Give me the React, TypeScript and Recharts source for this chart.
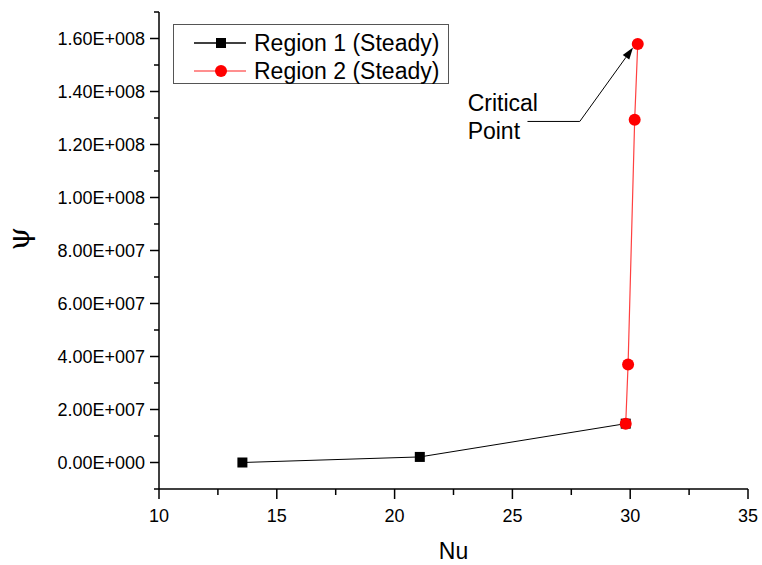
import React from "react";
import {
  LineChart,
  Line,
  XAxis,
  YAxis,
  ReferenceLine,
  ReferenceDot,
} from "recharts";

// Region 1 (Steady) - black squares
const region1Nu = [13.54, 21.07, 29.81];
const region1Psi = [0, 2.1e6, 1.466e7];

// Region 2 (Steady) - red circles
const region2Nu = [29.81, 29.91, 30.19, 30.32];
const region2Psi = [1.466e7, 3.695e7, 1.293e8, 1.579e8];

const seriesNames = ["Region 1 (Steady)", "Region 2 (Steady)"];

const xTicks = [10, 12.5, 15, 17.5, 20, 22.5, 25, 27.5, 30, 32.5, 35];
const xLabelTicks = [10, 15, 20, 25, 30, 35];
const yTicks = [
  -1e7, 0, 1e7, 2e7, 3e7, 4e7, 5e7, 6e7, 7e7, 8e7, 9e7, 1e8, 1.1e8, 1.2e8,
  1.3e8, 1.4e8, 1.5e8, 1.6e8, 1.7e8,
];
const yLabelTicks = [0, 2e7, 4e7, 6e7, 8e7, 1e8, 1.2e8, 1.4e8, 1.6e8];

// annotation: "Critical Point" label and arrow (data coordinates)
const annotationText = ["Critical", "Point"];
const annotationAt = { nu: 23.1, psi: 1.328e8 };
const leaderStart = { nu: 25.64, psi: 1.287e8 };
const leaderBend = { nu: 27.86, psi: 1.287e8 };
const arrowTip = { nu: 30.12, psi: 1.566e8 };

const region1 = region1Nu.map((x, i) => ({ x, y: region1Psi[i] }));
const region2 = region2Nu.map((x, i) => ({ x, y: region2Psi[i] }));

const FONT = "'Liberation Sans', Arial, sans-serif";

const formatSci = (v: number) => {
  if (v === 0) return "0.00E+000";
  const e = Math.floor(Math.log10(Math.abs(v)) + 1e-9);
  const m = v / Math.pow(10, e);
  return `${m.toFixed(2)}E+${String(e).padStart(3, "0")}`;
};

const XTick = (props: any) => {
  const { x, y, payload } = props;
  const major = xLabelTicks.includes(payload.value);
  return (
    <g>
      <line x1={x} x2={x} y1={y} y2={y + (major ? 10 : 6)} stroke="#000" strokeWidth={1.5} />
      {major && (
        <text x={x} y={y + 33} textAnchor="middle" fontSize={18} fontFamily={FONT} fill="#000">
          {payload.value}
        </text>
      )}
    </g>
  );
};

const YTick = (props: any) => {
  const { x, y, payload } = props;
  const major = yLabelTicks.some((t) => Math.abs(t - payload.value) < 1);
  return (
    <g>
      <line x1={x} x2={x - (major ? 9 : 5)} y1={y} y2={y} stroke="#000" strokeWidth={1.5} />
      {major && (
        <text x={x - 14} y={y + 6} textAnchor="end" fontSize={18} fontFamily={FONT} fill="#000">
          {formatSci(payload.value)}
        </text>
      )}
    </g>
  );
};

const Square = (props: any) => {
  const { cx, cy } = props;
  if (cx == null || cy == null) return null;
  return <rect x={cx - 5} y={cy - 5} width={10} height={10} fill="#000" />;
};

const Circle = (props: any) => {
  const { cx, cy } = props;
  if (cx == null || cy == null) return null;
  return <circle cx={cx} cy={cy} r={6} fill="#ff0000" />;
};

// legend box drawn over the plot, top-left
const LegendBox = () => (
  <div
    style={{
      position: "absolute",
      left: 173,
      top: 24,
      width: 274,
      height: 58,
      border: "1px solid #555",
      background: "#fff",
      fontFamily: FONT,
      fontSize: 23,
      color: "#000",
    }}
  >
    {seriesNames.map((name, i) => (
      <div
        key={name}
        style={{ position: "absolute", left: 0, top: 4 + i * 28, height: 28, display: "flex", alignItems: "center" }}
      >
        <svg width={80} height={28} style={{ display: "block" }}>
          <line x1={20} x2={72} y1={14} y2={14} stroke={i === 0 ? "#000" : "#ff6a6a"} strokeWidth={1.5} />
          {i === 0 ? (
            <rect x={42} y={9} width={10} height={10} fill="#000" />
          ) : (
            <circle cx={47} cy={14} r={6} fill="#ff0000" />
          )}
        </svg>
        <span style={{ lineHeight: "28px", whiteSpace: "nowrap" }}>{name}</span>
      </div>
    ))}
  </div>
);

const ArrowSegment = (props: any) => {
  const { x1, y1, x2, y2 } = props;
  const ang = Math.atan2(y2 - y1, x2 - x1);
  const len = 12;
  const w = 4;
  const bx = x2 - len * Math.cos(ang);
  const by = y2 - len * Math.sin(ang);
  const px = -Math.sin(ang) * w;
  const py = Math.cos(ang) * w;
  return (
    <g>
      <line x1={x1} y1={y1} x2={bx} y2={by} stroke="#000" strokeWidth={1} />
      <polygon points={`${x2},${y2} ${bx + px},${by + py} ${bx - px},${by - py}`} fill="#000" />
    </g>
  );
};

const AnnotationText = (props: any) => {
  const { cx, cy } = props;
  if (cx == null || cy == null) return null;
  return (
    <text x={cx} y={cy} fontSize={23} fontFamily={FONT} fill="#000">
      {annotationText.map((t, i) => (
        <tspan key={t} x={cx} dy={i === 0 ? 0 : 28}>
          {t}
        </tspan>
      ))}
    </text>
  );
};

export default function App() {
  return (
    <div style={{ position: "absolute", left: 0, top: 0, width: 762, height: 565, background: "#fff" }}>
      <LineChart
        width={762}
        height={565}
        margin={{ top: 12, right: 14, left: 0, bottom: 0 }}
      >
        <XAxis
          type="number"
          dataKey="x"
          domain={[10, 35]}
          ticks={xTicks}
          interval={0}
          allowDataOverflow
          tickSize={0}
          tickMargin={0}
          tick={<XTick />}
          height={76}
          axisLine={{ stroke: "#000", strokeWidth: 1.5 }}
          label={{ value: "Nu", position: "insideBottom", offset: 6, fontSize: 23, fontFamily: FONT, fill: "#000" }}
        />
        <YAxis
          type="number"
          dataKey="y"
          domain={[-1e7, 1.7e8]}
          ticks={yTicks}
          interval={0}
          allowDataOverflow
          tickSize={0}
          tickMargin={0}
          tick={<YTick />}
          width={159}
          axisLine={{ stroke: "#000", strokeWidth: 1.5 }}
          label={{ value: "ψ", angle: -90, position: "insideLeft", offset: 18, fontSize: 30, fontFamily: "'DejaVu Serif', serif", fill: "#000" }}
        />
        <ReferenceLine
          segment={[
            { x: leaderStart.nu, y: leaderStart.psi },
            { x: leaderBend.nu, y: leaderBend.psi },
          ]}
          stroke="#000"
          strokeWidth={1}
        />
        <ReferenceLine
          segment={[
            { x: leaderBend.nu, y: leaderBend.psi },
            { x: arrowTip.nu, y: arrowTip.psi },
          ]}
          shape={<ArrowSegment />}
        />
        <ReferenceDot
          x={annotationAt.nu}
          y={annotationAt.psi}
          r={0}
          shape={<AnnotationText />}
        />
        <Line
          data={region1}
          dataKey="y"
          name={seriesNames[0]}
          stroke="#000"
          strokeWidth={1}
          dot={<Square />}
          activeDot={false}
          isAnimationActive={false}
        />
        <Line
          data={region2}
          dataKey="y"
          name={seriesNames[1]}
          stroke="#ff4040"
          strokeWidth={1.2}
          dot={<Circle />}
          activeDot={false}
          isAnimationActive={false}
        />
      </LineChart>
      <LegendBox />
    </div>
  );
}
